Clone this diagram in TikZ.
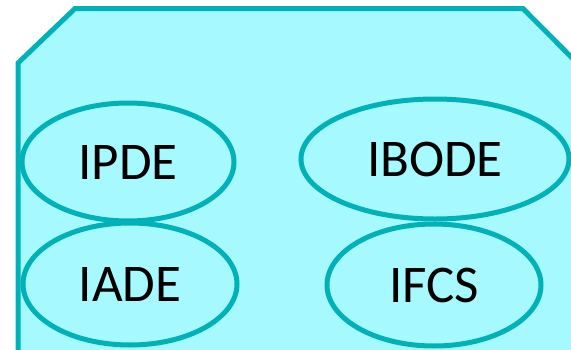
\documentclass[tikz,border=0pt]{standalone}
\usepackage{fontspec}
\setmainfont{Carlito}
\usetikzlibrary{shapes.geometric}
\definecolor{tealb}{RGB}{0,178,184}
\definecolor{cyanf}{RGB}{166,250,255}
\begin{document}
\begin{tikzpicture}[x=1pt,y=-1pt,
  oval/.style={ellipse,draw=tealb,line width=5pt,fill=cyanf,inner sep=0pt,font=\fontsize{53}{53}\selectfont}]
\useasboundingbox (0,0) rectangle (571,349);
\clip (0,0) rectangle (571,349);
\draw[draw=tealb,fill=cyanf,line width=5pt,line join=miter]
  (18,400) -- (18,63) -- (75,8.5) -- (523,8.5) -- (600,86) -- (600,400) -- cycle;
\node[oval,minimum width=212pt,minimum height=118pt] (ipde) at (128,162) {IPDE};
\node[oval,minimum width=214pt,minimum height=122pt] (iade) at (130,284) {IADE};
\node[oval,minimum width=268pt,minimum height=120pt] (ibode) at (435,159) {\raisebox{-3pt}{IBODE}};
\node[oval,minimum width=214pt,minimum height=122pt] (ifcs) at (434,285) {\raisebox{-2pt}{IFCS}};
\end{tikzpicture}
\end{document}
